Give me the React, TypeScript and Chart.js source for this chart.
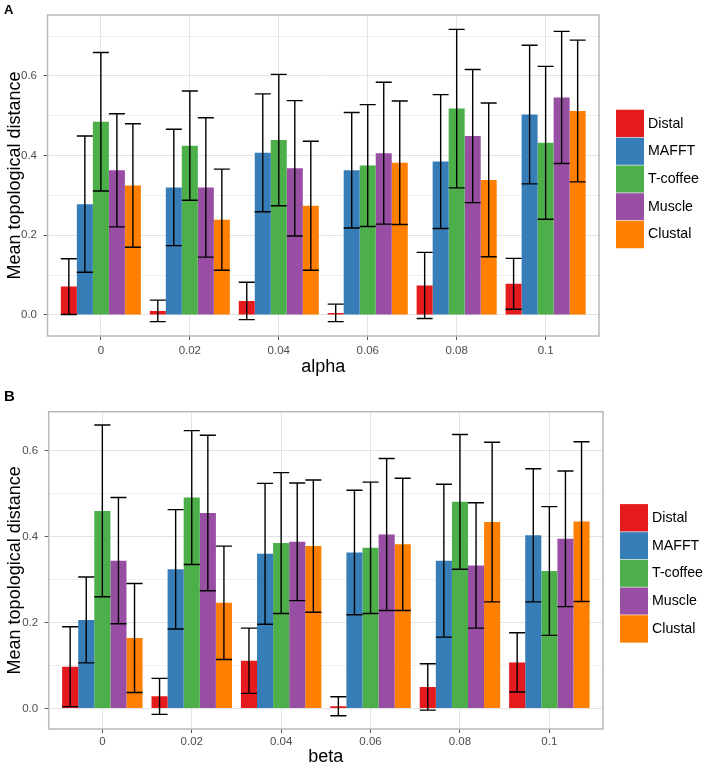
import React, { useEffect, useRef } from "react";
import { Chart, registerables } from "chart.js";

Chart.register(...registerables);

const FONT = "'Liberation Sans', Arial, Helvetica, sans-serif";

const seriesNames = ["Distal", "MAFFT", "T-coffee", "Muscle", "Clustal"];
const seriesColors = ["#E41A1C", "#377EB8", "#4DAF4A", "#984EA3", "#FF7F00"];
const categories = ["0", "0.02", "0.04", "0.06", "0.08", "0.1"];

// Panel A (alpha): means and error half-widths
const alphaDistal = [0.071, 0.010, 0.035, 0.005, 0.074, 0.078];
const alphaDistalErr = [0.070, 0.027, 0.047, 0.022, 0.083, 0.064];
const alphaMafft = [0.278, 0.320, 0.407, 0.363, 0.385, 0.503];
const alphaMafftErr = [0.171, 0.146, 0.148, 0.145, 0.168, 0.174];
const alphaTcoffee = [0.485, 0.425, 0.439, 0.375, 0.518, 0.432];
const alphaTcoffeeErr = [0.174, 0.137, 0.165, 0.153, 0.199, 0.192];
const alphaMuscle = [0.363, 0.320, 0.368, 0.406, 0.449, 0.546];
const alphaMuscleErr = [0.142, 0.175, 0.170, 0.178, 0.167, 0.166];
const alphaClustal = [0.325, 0.239, 0.274, 0.382, 0.339, 0.512];
const alphaClustalErr = [0.155, 0.127, 0.162, 0.155, 0.193, 0.178];

// Panel B (beta)
const betaDistal = [0.097, 0.028, 0.111, 0.005, 0.050, 0.107];
const betaDistalErr = [0.093, 0.042, 0.076, 0.022, 0.054, 0.069];
const betaMafft = [0.206, 0.324, 0.360, 0.363, 0.344, 0.403];
const betaMafftErr = [0.100, 0.139, 0.164, 0.145, 0.178, 0.155];
const betaTcoffee = [0.460, 0.491, 0.385, 0.374, 0.481, 0.320];
const betaTcoffeeErr = [0.200, 0.156, 0.164, 0.153, 0.157, 0.150];
const betaMuscle = [0.344, 0.455, 0.388, 0.405, 0.333, 0.395];
const betaMuscleErr = [0.147, 0.181, 0.137, 0.177, 0.146, 0.158];
const betaClustal = [0.164, 0.246, 0.378, 0.382, 0.434, 0.435];
const betaClustalErr = [0.127, 0.132, 0.154, 0.154, 0.186, 0.186];

const yTitle = "Mean topological distance";

type PanelLayout = {
  top: number;
  right: number;
  yAxisW: number;
  xAxisH: number;
  xTickPad: number;
  xTitlePad: number;
  yTitlePad: number;
  legendDx: number;
  legendDy: number;
  yMin: number;
  yMax: number;
};

const isMajor = (v: number) => Math.round(v * 10) % 2 === 0;

function makeErrorBarPlugin(errs: number[][]) {
  return {
    id: "errorBars",
    afterDatasetsDraw(chart: any) {
      const ctx = chart.ctx;
      const ys = chart.scales.y;
      ctx.save();
      ctx.strokeStyle = "#000000";
      ctx.lineWidth = 1.4;
      chart.data.datasets.forEach((ds: any, i: number) => {
        const meta = chart.getDatasetMeta(i);
        meta.data.forEach((bar: any, j: number) => {
          const m = ds.data[j].y;
          const e = errs[i][j];
          const x = bar.x;
          const w = bar.width;
          const yt = ys.getPixelForValue(m + e);
          const yb = ys.getPixelForValue(m - e);
          ctx.beginPath();
          ctx.moveTo(x, yt);
          ctx.lineTo(x, yb);
          ctx.moveTo(x - w / 2, yt);
          ctx.lineTo(x + w / 2, yt);
          ctx.moveTo(x - w / 2, yb);
          ctx.lineTo(x + w / 2, yb);
          ctx.stroke();
        });
      });
      const a = chart.chartArea;
      ctx.strokeStyle = "#b8b8b8";
      ctx.lineWidth = 1.5;
      ctx.strokeRect(a.left, a.top, a.right - a.left, a.bottom - a.top);
      ctx.restore();
    },
  };
}

function makeLegendPlugin(L: PanelLayout) {
  return {
    id: "panelLegend",
    afterDraw(chart: any) {
      const ctx = chart.ctx;
      const a = chart.chartArea;
      const step = 27.7;
      const n = chart.data.datasets.length;
      const cy = (a.top + a.bottom) / 2 + L.legendDy;
      const y0 = cy - (n * step) / 2;
      const kx = a.right + L.legendDx;
      ctx.save();
      chart.data.datasets.forEach((ds: any, i: number) => {
        ctx.fillStyle = ds.backgroundColor;
        ctx.fillRect(kx, y0 + i * step, 28, step);
        if (i > 0) {
          ctx.fillStyle = "rgba(255,255,255,0.55)";
          ctx.fillRect(kx, y0 + i * step - 0.5, 28, 1);
        }
        ctx.fillStyle = "#000000";
        ctx.font = `14.2px ${FONT}`;
        ctx.textBaseline = "middle";
        ctx.textAlign = "left";
        ctx.fillText(ds.label, kx + 32, y0 + i * step + step / 2);
      });
      ctx.restore();
    },
  };
}

function buildConfig(
  means: number[][],
  errs: number[][],
  xTitle: string,
  L: PanelLayout
): any {
  return {
    type: "bar",
    data: {
      datasets: seriesNames.map((name, i) => ({
        label: name,
        data: means[i].map((v, j) => ({ x: j, y: v })),
        backgroundColor: seriesColors[i],
        borderWidth: 0,
        categoryPercentage: 0.9,
        barPercentage: 1,
      })),
    },
    plugins: [makeErrorBarPlugin(errs), makeLegendPlugin(L)],
    options: {
      animation: false,
      responsive: false,
      maintainAspectRatio: false,
      devicePixelRatio: 1,
      events: [],
      layout: { padding: { left: 0, top: L.top, right: L.right, bottom: 0 } },
      plugins: {
        legend: { display: false },
        tooltip: { enabled: false },
        title: { display: false },
      },
      scales: {
        x: {
          type: "linear",
          min: -0.6,
          max: 5.6,
          offset: false,
          afterFit: (s: any) => {
            s.height = L.xAxisH;
          },
          border: { display: false },
          grid: {
            offset: false,
            color: "#e4e4e4",
            lineWidth: 1,
            drawTicks: true,
            tickLength: 4,
            tickColor: "#555555",
          },
          ticks: {
            stepSize: 1,
            includeBounds: false,
            autoSkip: false,
            maxRotation: 0,
            minRotation: 0,
            padding: L.xTickPad,
            color: "#4d4d4d",
            font: { family: FONT, size: 11.5 },
            callback: (v: number) => {
              const k = Math.round(v);
              return Math.abs(v - k) < 1e-6 && categories[k] !== undefined ? categories[k] : "";
            },
          },
          title: {
            display: true,
            text: xTitle,
            color: "#000000",
            font: { family: FONT, size: 18, lineHeight: 1 },
            padding: { top: 0, bottom: L.xTitlePad },
          },
        },
        y: {
          min: L.yMin,
          max: L.yMax,
          afterFit: (s: any) => {
            s.width = L.yAxisW;
          },
          border: { display: false },
          grid: {
            color: (c: any) => (c.tick && isMajor(c.tick.value) ? "#e2e2e2" : "#f0f0f0"),
            lineWidth: 1,
            drawTicks: true,
            tickLength: 4,
            tickColor: (c: any) => (c.tick && isMajor(c.tick.value) ? "#555555" : "rgba(0,0,0,0)"),
          },
          ticks: {
            stepSize: 0.1,
            includeBounds: false,
            padding: 6.5,
            color: "#4d4d4d",
            font: { family: FONT, size: 11.5 },
            callback: (v: number) => (isMajor(v) ? Number(v).toFixed(1) : ""),
          },
          title: {
            display: true,
            text: yTitle,
            color: "#000000",
            font: { family: FONT, size: 18, lineHeight: 1 },
            padding: { top: L.yTitlePad, bottom: 0 },
          },
        },
      },
    },
  };
}

const layoutA: PanelLayout = {
  top: 15,
  right: 109,
  yAxisW: 47.5,
  xAxisH: 47,
  xTickPad: 3.5,
  xTitlePad: 7,
  yTitlePad: 6,
  legendDx: 17,
  legendDy: 3.5,
  yMin: -0.053,
  yMax: 0.753,
};

const layoutB: PanelLayout = {
  top: 28.7,
  right: 105,
  yAxisW: 48.7,
  xAxisH: 37,
  xTickPad: 1.5,
  xTitlePad: 0,
  yTitlePad: 6.5,
  legendDx: 17,
  legendDy: 3,
  yMin: -0.048,
  yMax: 0.691,
};

function Panel(props: {
  means: number[][];
  errs: number[][];
  xTitle: string;
  L: PanelLayout;
}) {
  const ref = useRef<HTMLCanvasElement>(null);
  useEffect(() => {
    if (!ref.current) return;
    const chart = new Chart(ref.current, buildConfig(props.means, props.errs, props.xTitle, props.L));
    return () => chart.destroy();
  }, []);
  return <canvas ref={ref} width={708} height={383} style={{ display: "block", width: 708, height: 383 }} />;
}

export default function App() {
  const meansA = [alphaDistal, alphaMafft, alphaTcoffee, alphaMuscle, alphaClustal];
  const errsA = [alphaDistalErr, alphaMafftErr, alphaTcoffeeErr, alphaMuscleErr, alphaClustalErr];
  const meansB = [betaDistal, betaMafft, betaTcoffee, betaMuscle, betaClustal];
  const errsB = [betaDistalErr, betaMafftErr, betaTcoffeeErr, betaMuscleErr, betaClustalErr];
  const letter: React.CSSProperties = {
    position: "absolute",
    left: 4,
    fontFamily: FONT,
    fontWeight: "bold",
    color: "#000",
    lineHeight: 1,
  };
  return (
    <div
      style={{
        position: "absolute",
        left: 0,
        top: 0,
        width: 708,
        height: 766,
        overflow: "hidden",
        background: "#ffffff",
      }}
    >
      <Panel means={meansA} errs={errsA} xTitle="alpha" L={layoutA} />
      <Panel means={meansB} errs={errsB} xTitle="beta" L={layoutB} />
      <div style={{ ...letter, top: 3, fontSize: 13 }}>A</div>
      <div style={{ ...letter, top: 388, fontSize: 15 }}>B</div>
    </div>
  );
}
